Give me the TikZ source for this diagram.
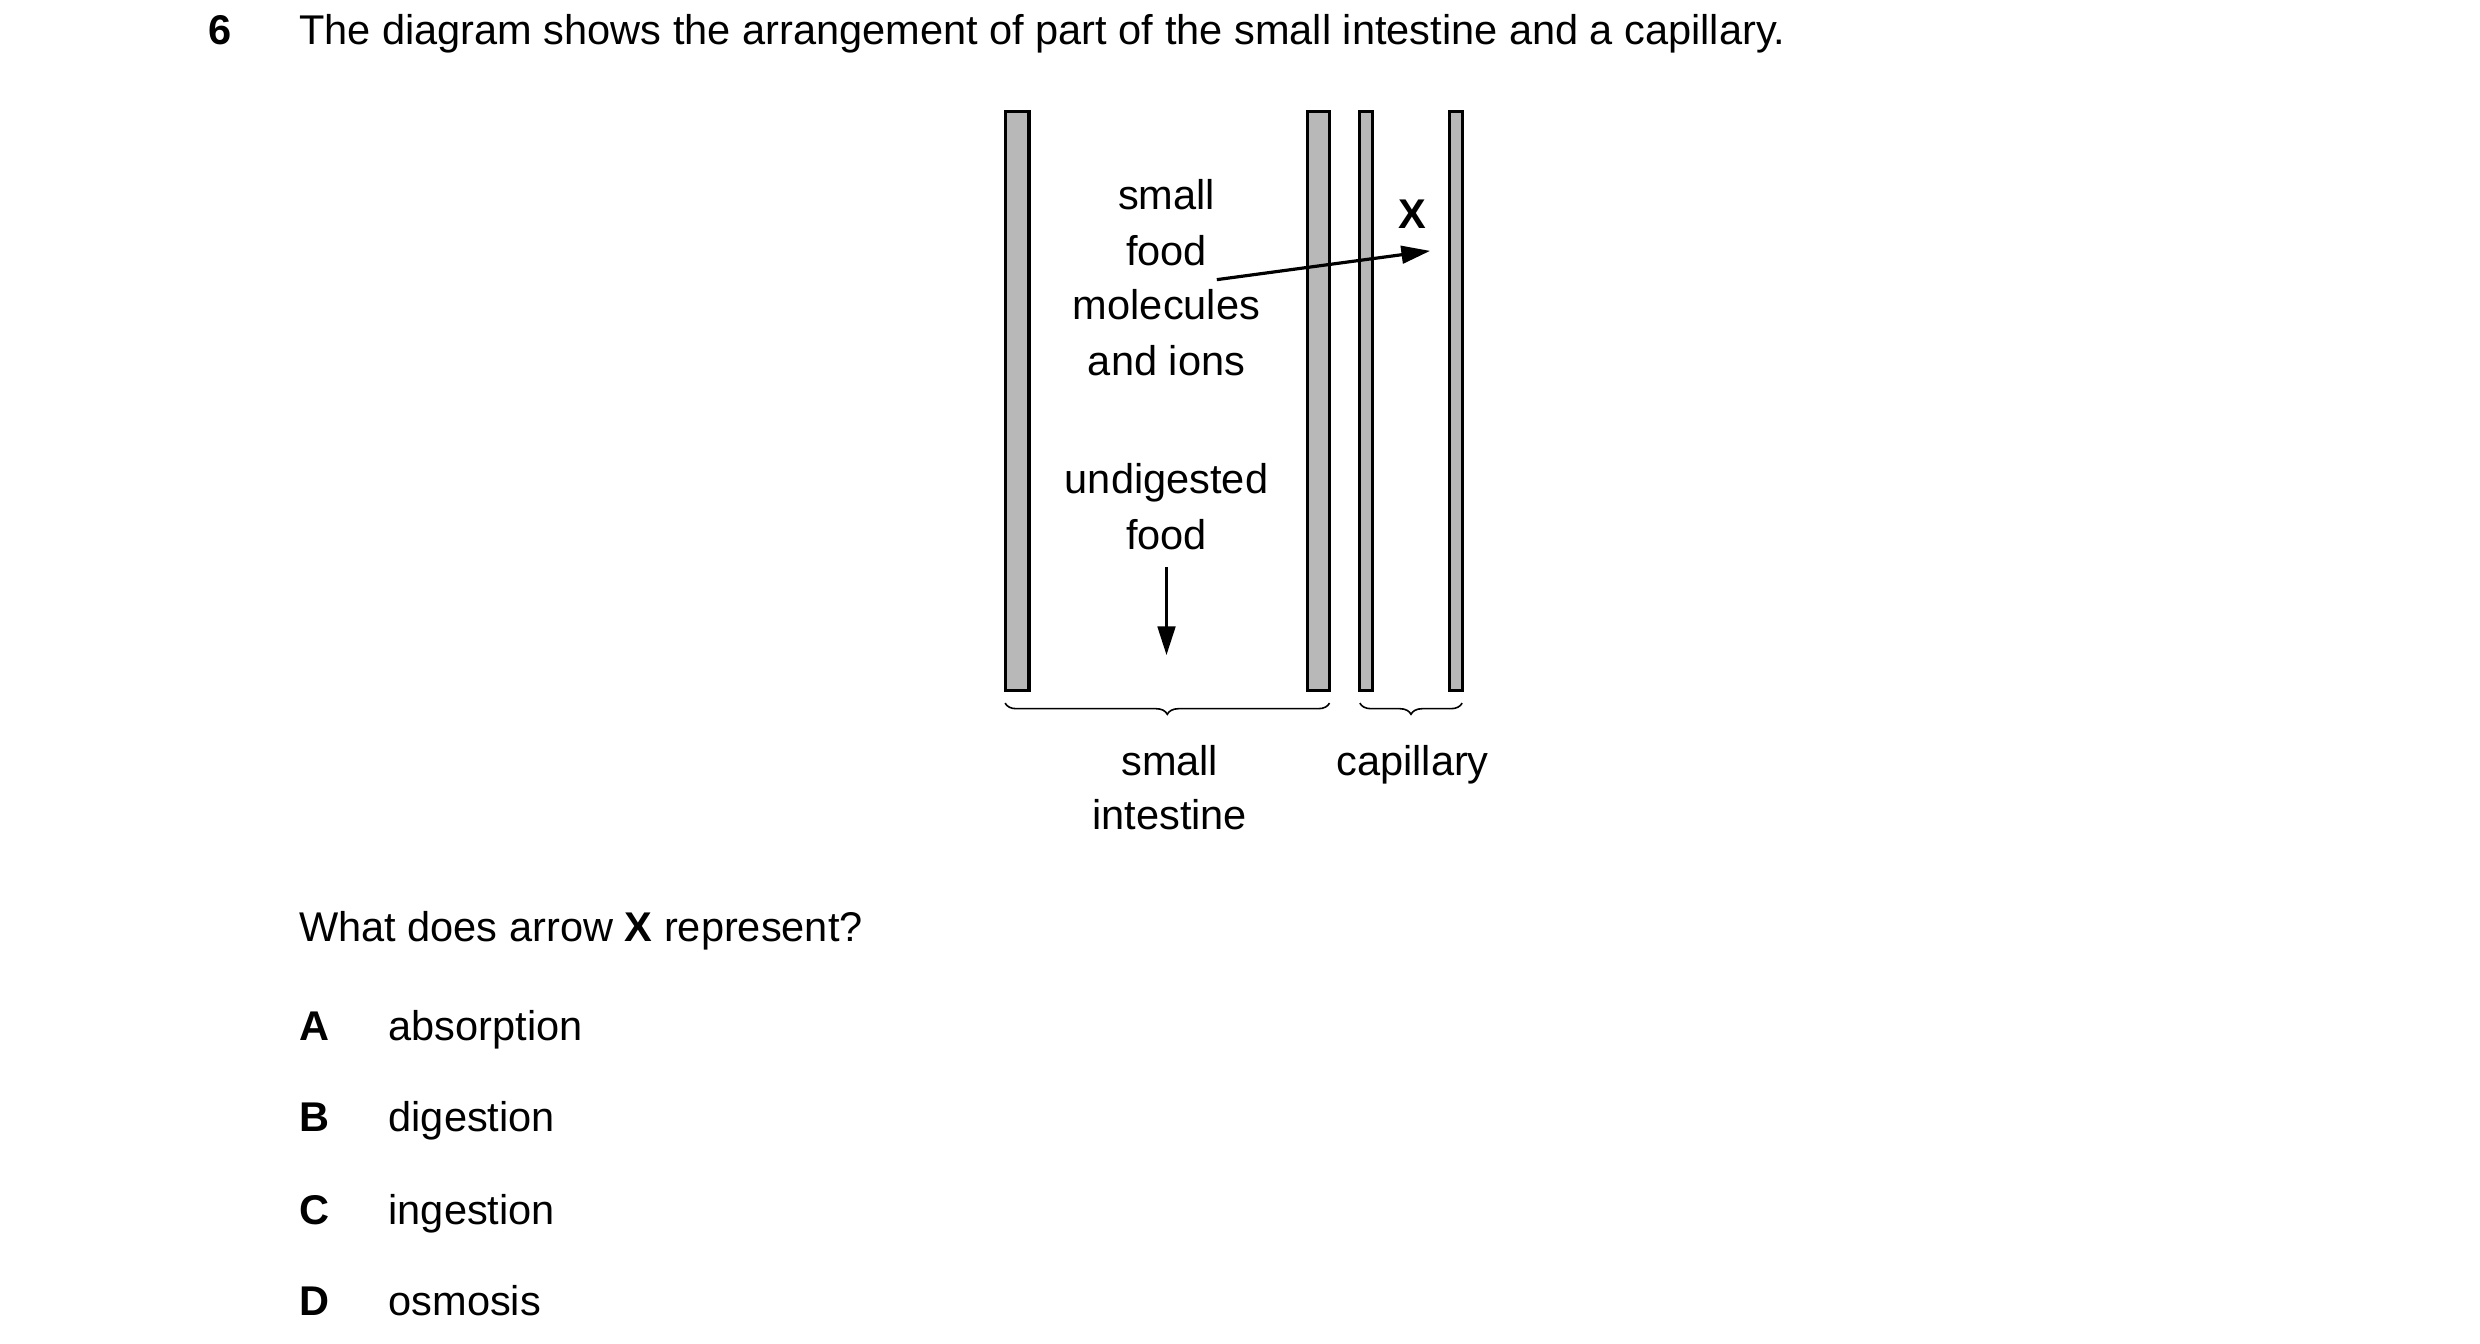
\documentclass[tikz,border=0pt]{standalone}
\usepackage{fontspec}
\setmainfont{Liberation Sans}
\usetikzlibrary{decorations.pathreplacing,arrows.meta}
\begin{document}
\begin{tikzpicture}[x=1pt,y=-1pt,
  txt/.style={font=\fontsize{26}{31}\selectfont,inner sep=0pt,anchor=base},
  wall/.style={fill=black!28,draw=black,line width=2pt},
  arr/.style={line width=2pt,-{Triangle[length=18pt,width=11pt]}},
  br/.style={decorate,decoration={brace,mirror,amplitude=7pt},line width=1pt}]
\useasboundingbox (0,0) rectangle (1552,840.5);
\node[txt] (n6) at (138,28) {\textbf{6}};
\node[txt,anchor=base west] (q) at (187,28) {The diagram shows the arrangement of part of the small intestine and a capillary.};
% walls
\path[wall] (629,70) rectangle (644,432);
\path[wall] (818,70) rectangle (832,432);
\path[wall] (851,70) rectangle (859,432);
\path[wall] (907,70) rectangle (915,432);
\node[txt] (t1) at (730,131) {small};
\node[txt] (t2) at (730,166) {food};
\node[txt] (t3) at (730,200) {molecules};
\node[txt] (t4) at (730,235) {and ions};
\node[txt] (u1) at (730,309) {undigested};
\node[txt] (u2) at (730,344) {food};
\node[txt] (X) at (884,143) {\textbf{X}};
\coordinate (xe) at (895,157);
\draw[arr] ([xshift=6pt,yshift=-9pt]t2.base east) -- (xe);
\coordinate (us) at (730,355);
\coordinate (ue) at (730,410);
\draw[arr] (us) -- (ue);
\coordinate (b1) at (629,440); \coordinate (b2) at (832,440);
\coordinate (c1) at (851,440); \coordinate (c2) at (915,440);
\draw[br] (b1) -- (b2);
\draw[br] (c1) -- (c2);
\node[txt] (s1) at (732,485) {small};
\node[txt] (s2) at (732,519) {intestine};
\node[txt] (cap) at (884,485) {capillary};
\node[txt,anchor=base west] (w) at (187,589) {What does arrow \textbf{X} represent?};
\foreach \l/\w/\y in {A/absorption/651,B/digestion/708,C/ingestion/766,D/osmosis/823}{
  \node[txt] (L\l) at (197,\y) {\textbf{\l}};
  \node[txt,anchor=base west] (W\l) at (243,\y) {\w};
}
\end{tikzpicture}
\end{document}
